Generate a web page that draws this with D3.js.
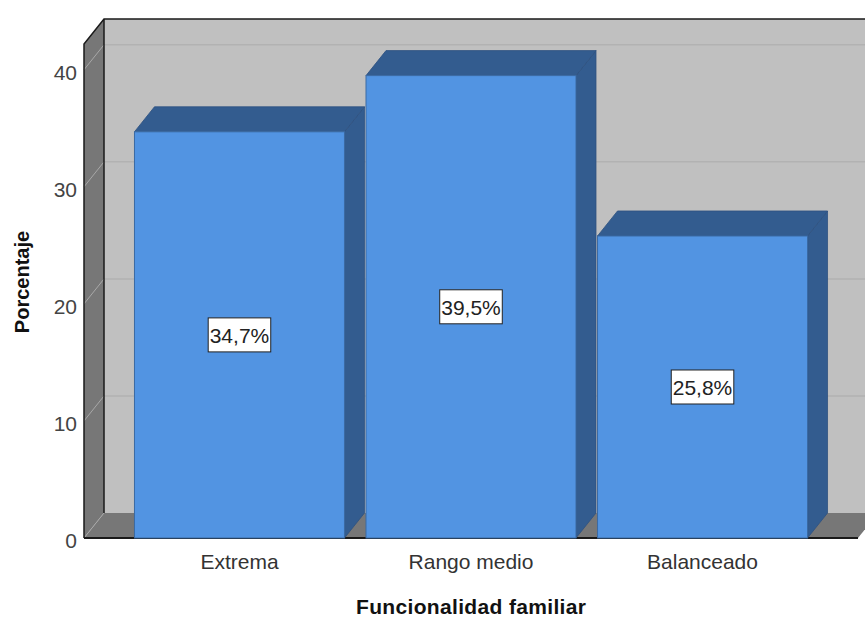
<!DOCTYPE html>
<html>
<head>
<meta charset="utf-8">
<script src="https://cdn.jsdelivr.net/npm/d3@7"></script>
<style>
  body { margin: 0; background: #fff; }
  text { font-family: "Liberation Sans", Arial, sans-serif; }
</style>
</head>
<body>
<div id="chart"></div>
<script>
// data
var categories = ['Extrema', 'Rango medio', 'Balanceado'];
var percents = [34.7, 39.5, 25.8];
var valueLabels = ['34,7%', '39,5%', '25,8%'];
var yTicks = [0, 10, 20, 30, 40];

var W = 865, H = 619;
var depthX = 20, depthY = 25;   // 3d offset to the back plane

var svg = d3.select('#chart').append('svg')
    .attr('width', W).attr('height', H);

var y = d3.scaleLinear().domain([0, 42.2]).range([538, 44]);
var x = d3.scaleBand().domain(categories).range([84, 858])
    .paddingInner(0.093).paddingOuter(0.218);

var x0 = 84, x1 = 858, yb = y(0), yt = y(42.2);

// back wall
svg.append('rect')
    .attr('x', x0 + depthX).attr('y', yt - depthY)
    .attr('width', x1 - x0 + 20).attr('height', yb - yt)
    .attr('fill', '#c0c0c0');

// left wall
svg.append('polygon')
    .attr('points', [[x0, yt], [x0 + depthX, yt - depthY], [x0 + depthX, yb - depthY], [x0, yb]].join(' '))
    .attr('fill', '#777777');

// floor
svg.append('polygon')
    .attr('points', [[x0, yb], [x0 + depthX, yb - depthY], [x1 + depthX, yb - depthY], [x1, yb]].join(' '))
    .attr('fill', '#777777');

// gridlines
yTicks.filter(function(d) { return d > 0; }).forEach(function(v) {
    svg.append('line')
        .attr('x1', x0 + depthX).attr('x2', W)
        .attr('y1', y(v) - depthY).attr('y2', y(v) - depthY)
        .attr('stroke', '#b2b2b2').attr('stroke-width', 1.5);
});
yTicks.forEach(function(v) {
    svg.append('line')
        .attr('x1', x0).attr('y1', y(v))
        .attr('x2', x0 + depthX).attr('y2', y(v) - depthY)
        .attr('stroke', '#a8a8a8').attr('stroke-width', 1);
});

// frame lines
svg.append('polyline')
    .attr('points', [[x0, yb], [x0, yt], [x0 + depthX, yt - depthY], [W, yt - depthY]].join(' '))
    .attr('fill', 'none').attr('stroke', '#1a1a1a').attr('stroke-width', 1.5);
svg.append('line')
    .attr('x1', x0 + depthX).attr('y1', yt - depthY)
    .attr('x2', x0 + depthX).attr('y2', yb - depthY)
    .attr('stroke', '#1a1a1a').attr('stroke-width', 1.5);
svg.append('line')
    .attr('x1', x0).attr('y1', yb).attr('x2', x1).attr('y2', yb)
    .attr('stroke', '#1a1a1a').attr('stroke-width', 2);

// bars
var bars = svg.selectAll('.bar').data(categories).enter()
    .append('g').attr('class', 'bar');

bars.append('polygon')   // right side
    .attr('points', function(d, i) {
        var r = x(d) + x.bandwidth(), t = y(percents[i]);
        return [[r, t], [r + depthX, t - depthY], [r + depthX, yb - depthY], [r, yb]].join(' ');
    })
    .attr('fill', '#335c8f').attr('stroke', '#2e5280').attr('stroke-width', 0.8);

bars.append('polygon')   // top
    .attr('points', function(d, i) {
        var l = x(d), r = l + x.bandwidth(), t = y(percents[i]);
        return [[l, t], [l + depthX, t - depthY], [r + depthX, t - depthY], [r, t]].join(' ');
    })
    .attr('fill', '#335c8f').attr('stroke', '#2e5280').attr('stroke-width', 0.8);

bars.append('rect')      // front
    .attr('x', function(d) { return x(d); })
    .attr('y', function(d, i) { return y(percents[i]); })
    .attr('width', x.bandwidth())
    .attr('height', function(d, i) { return yb - y(percents[i]); })
    .attr('fill', '#5294e2').attr('stroke', '#3b6aa3').attr('stroke-width', 1);

// value labels
bars.each(function(d, i) {
    var g = d3.select(this);
    var cx = x(d) + x.bandwidth() / 2, cy = y(percents[i] / 2);
    var t = g.append('text')
        .attr('x', cx).attr('y', cy + 8)
        .attr('text-anchor', 'middle')
        .attr('font-size', 21).attr('fill', '#222')
        .text(valueLabels[i]);
    var bb = t.node().getBBox();
    g.insert('rect', 'text')
        .attr('x', bb.x - 1.5).attr('y', cy - 17)
        .attr('width', bb.width + 3).attr('height', 34)
        .attr('fill', '#fff').attr('stroke', '#222').attr('stroke-width', 1);
});

// y tick labels
svg.selectAll('.ytick').data(yTicks).enter().append('text')
    .attr('x', 77).attr('y', function(d) { return y(d) + 10; })
    .attr('text-anchor', 'end').attr('font-size', 21).attr('fill', '#444')
    .text(function(d) { return d; });

// x tick labels
svg.selectAll('.xtick').data(categories).enter().append('text')
    .attr('x', function(d) { return x(d) + x.bandwidth() / 2; })
    .attr('y', 569)
    .attr('text-anchor', 'middle').attr('font-size', 21).attr('fill', '#333')
    .text(function(d) { return d; });

// axis titles
svg.append('text')
    .attr('x', 471).attr('y', 614)
    .attr('text-anchor', 'middle').attr('font-size', 21).attr('font-weight', 'bold').attr('fill', '#111')
    .attr('textLength', 230).attr('lengthAdjust', 'spacing')
    .text('Funcionalidad familiar');
svg.append('text')
    .attr('transform', 'translate(29,282) rotate(-90)')
    .attr('text-anchor', 'middle').attr('font-size', 20).attr('font-weight', 'bold').attr('fill', '#111')
    .text('Porcentaje');
</script>
</body>
</html>
